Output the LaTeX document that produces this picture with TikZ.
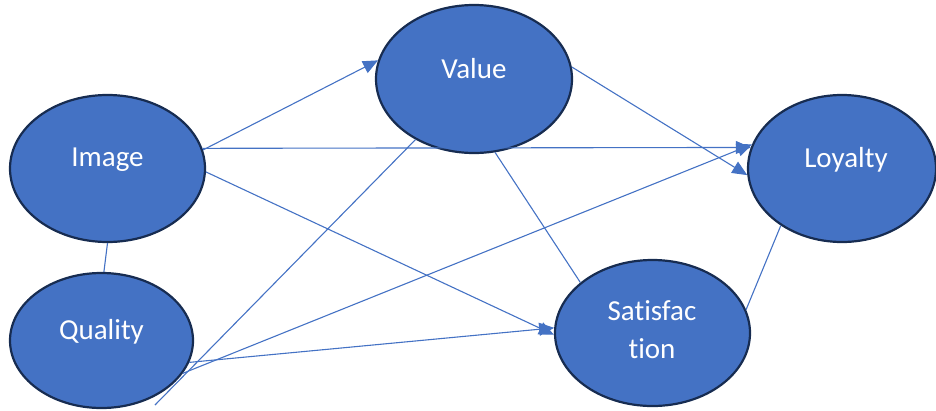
\documentclass[tikz,border=0pt]{standalone}
\usepackage{fontspec}
\setmainfont[Ligatures=NoCommon]{Carlito}
\usetikzlibrary{shapes.geometric,arrows.meta}
\definecolor{officeblue}{HTML}{4472C4}
\definecolor{darkrim}{HTML}{172C51}
\begin{document}
\begin{tikzpicture}[x=1pt,y=-1pt,
  factor/.style={ellipse,draw=darkrim,line width=2.2pt,fill=officeblue,inner sep=0pt},
  factorname/.style={text=white,anchor=base,inner sep=0pt,font=\fontsize{29}{38}\selectfont},
  link/.style={draw=officeblue,line width=1.1pt},
  effect/.style={link,-{Triangle[length=15pt,width=13pt]}}]
\useasboundingbox (0,0) rectangle (936,410);
% the five constructs
\node[factor,minimum width=195pt,minimum height=147pt] (img) at (107.5,168.5) {};
\node[factor,minimum width=183pt,minimum height=135pt] (qual) at (101.5,340.5) {};
\node[factor,minimum width=196pt,minimum height=148pt] (val) at (474,79) {};
\node[factor,minimum width=188pt,minimum height=147pt] (loy) at (842,168.5) {};
\node[factor,minimum width=195pt,minimum height=146pt] (sat) at (652.5,333) {};
\node[factorname] (img-txt) at (107.5,166.5) {Image};
\node[factorname] (qual-txt) at (101.5,339.5) {Quality};
\node[factorname] (val-txt) at (474,78) {Value};
\node[factorname] (loy-txt) at (846,167) {Loyalty};
\node[factorname,align=center] (sat-txt) at (652,358) {Satisfac\\tion};
\coordinate (qual-end) at (155,405);
% paths
\draw[effect] (img.11) -- (val.169);
\draw[effect] (img.12) -- (loy.167);
\draw[effect] (img.-2) -- (sat.181);
\draw[effect] (val.7) -- (loy.184);
\draw[effect] (qual.338) -- (loy.165);
\draw[effect] (qual.346) -- (sat.177);
\draw[link] (val.286) -- (sat.145);
\draw[link] (qual-end) -- (val.226);
\draw[link] (img.south) -- (qual.88);
\draw[link] (loy.223) -- (sat.14);
\end{tikzpicture}
\end{document}
